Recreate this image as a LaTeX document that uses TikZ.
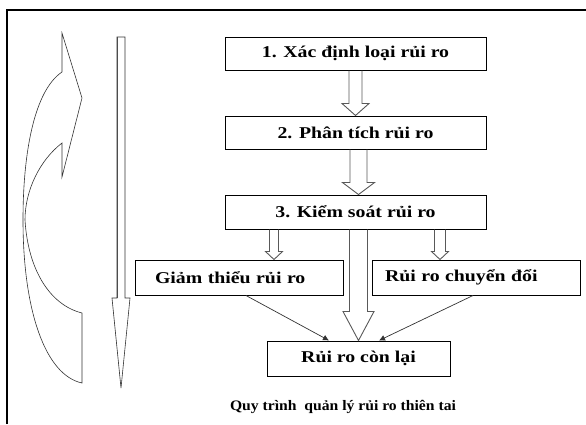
\documentclass[tikz,border=0pt]{standalone}
\usepackage{fontspec}
\usetikzlibrary{calc,arrows.meta}
\newfontfamily\boxfont{Liberation Serif}[FakeStretch=1.2]
\newfontfamily\capfont{Liberation Serif}[FakeStretch=1.08]

% outlined block arrow pointing down:
% #1 style, #2 start, #3 end, #4 half shaft, #5 half head, #6 head length
\newcommand\hollowarrow[6]{%
  \draw[#1] let \p1=(#2), \p2=(#3) in
    (\x1-#4,\y1) -- (\x1-#4,\y2+#6) -- (\x1-#5,\y2+#6) -- (\x1,\y2)
    -- (\x1+#5,\y2+#6) -- (\x1+#4,\y2+#6) -- (\x1+#4,\y1);
}

\tikzset{
  box/.style={draw=black, line width=1pt, rectangle, inner sep=0pt,
    font=\boxfont\bfseries\fontsize{16.5}{18}\selectfont},
  harrow/.style={draw=black!65, line width=0.9pt, line join=miter},
  thinarrow/.style={draw=black!80, line width=0.7pt,
    -{Latex[length=6pt,width=6pt]}},
  outline/.style={draw=black!80, line width=0.6pt},
}

\begin{document}
\begin{tikzpicture}[x=1pt,y=-1pt]
\useasboundingbox (0,0) rectangle (586,424);

% frame
\draw[line width=1.2pt] (7,424) -- (7,10) -- (586,10);

% process boxes
\node[box, minimum width=261pt, minimum height=33pt] (b1) at (355.5,53.5) {1. Xác định loại rủi ro};
\node[box, minimum width=261pt, minimum height=33pt] (b2) at (355.5,132.5) {2. Phân tích rủi ro};
\node[box, minimum width=261pt, minimum height=34pt] (b3) at (355.5,212) {3. Kiểm soát rủi ro};
\node[box, minimum height=35pt, text width=168pt, inner xsep=20pt, align=left] (g) at (239,277.5) {Giảm thiểu rủi ro};
\node[box, minimum height=35pt, text width=182pt, inner xsep=13pt, align=left] (c) at (476,277.5) {Rủi ro chuyển đổi};
\node[box, minimum width=183pt, minimum height=35pt] (r) at (358.5,358.5) {Rủi ro còn lại};

% caption
\node[font=\capfont\bfseries\fontsize{14.5}{16}\selectfont] (cap) at (343,407) {Quy trình\ \ quản lý rủi ro thiên tai};

% helper abscissae
\coordinate (a2) at ($(b2.south)+(3,0)$);
\coordinate (a4) at (274,0);
\coordinate (a5) at (440,0);
\coordinate (gp) at (246,0);
\coordinate (rl) at (329,0);
\coordinate (cp) at (473,0);
\coordinate (rr) at (379,0);

% block arrows between the steps
\hollowarrow{harrow}{b1.south}{b2.north}{6.5pt}{13.5pt}{12pt}
\hollowarrow{harrow}{a2}{b3.north -| a2}{8.5pt}{16pt}{12pt}
\hollowarrow{harrow}{b3.south -| r.north}{r.north}{9pt}{15.5pt}{29pt}
\hollowarrow{harrow}{b3.south -| a4}{g.north -| a4}{4.5pt}{8.5pt}{8pt}
\hollowarrow{harrow}{b3.south -| a5}{c.north -| a5}{5.5pt}{8.5pt}{8pt}

% thin arrows into the residual risk
\draw[thinarrow] (g.south -| gp) -- (r.north -| rl);
\draw[thinarrow] (c.south -| cp) -- (r.north -| rr);

% long downward arrow on the left
\draw[outline] (117,37) -- (125,37) -- (125,298) -- (130,298) -- (121,388)
  -- (112,298) -- (117,298) -- cycle;
\draw[black!70, line width=1.8pt] (117.5,37) -- (117.5,298);

% curved arrow
\draw[outline] (82,383) -- (82,313)
  .. controls (50,305) and (28,270) .. (25,220)
  .. controls (25,190) and (40,160) .. (62,143)
  -- (62,177) -- (82,98) -- (62,33) -- (62,72)
  .. controls (35,90) and (23,150) .. (23,220)
  .. controls (23,310) and (45,375) .. cycle;
\end{tikzpicture}
\end{document}
